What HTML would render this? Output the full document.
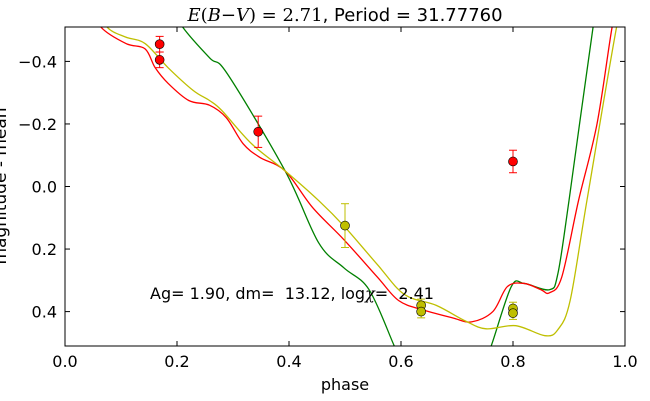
<!DOCTYPE html>
<html><head><meta charset="utf-8"><style>
body{margin:0;background:#fff;}
svg{display:block;font-family:"DejaVu Sans","Liberation Sans",sans-serif;}
text{white-space:pre;}
</style></head><body>
<svg id="chart" width="650" height="401">
<text x="345" y="21" font-size="18" text-anchor="middle"><tspan font-family="DejaVu Serif,serif" font-style="italic">E</tspan><tspan font-family="DejaVu Serif,serif">(</tspan><tspan font-family="DejaVu Serif,serif" font-style="italic">B</tspan><tspan font-family="DejaVu Serif,serif">−</tspan><tspan font-family="DejaVu Serif,serif" font-style="italic">V</tspan><tspan font-family="DejaVu Serif,serif">) = 2.71</tspan>, Period = 31.77760</text>
<text x="345" y="390" font-size="16" text-anchor="middle">phase</text>
<text transform="translate(6,186) rotate(-90)" font-size="17" text-anchor="middle">magnitude - mean</text>
<defs><clipPath id="pc"><rect x="65" y="27" width="560" height="319"/></clipPath></defs>
<g id="curves" clip-path="url(#pc)"></g>
<g id="pts"></g>
<g id="axes"></g>
<text x="150" y="299" font-size="16" xml:space="preserve">Ag= 1.90, dm=  13.12, log<tspan font-family="DejaVu Serif,serif" font-style="italic">χ</tspan>=  2.41</text>
</svg>
<script>
const xTicks=[0.0,0.2,0.4,0.6,0.8,1.0];
const xTickLabels=["0.0","0.2","0.4","0.6","0.8","1.0"];
const yTicks=[-0.4,-0.2,0.0,0.2,0.4];
const yTickLabels=["−0.4","−0.2","0.0","0.2","0.4"];
const greenA=[[0.19,-0.58],[0.21,-0.51],[0.259,-0.41],[0.29,-0.36],[0.393,-0.05],[0.453,0.18],[0.498,0.26],[0.543,0.33],[0.588,0.51],[0.61,0.6]];
const greenB=[[0.74,0.6],[0.761,0.51],[0.797,0.32],[0.82,0.31],[0.865,0.33],[0.88,0.28],[0.90,0.045],[0.943,-0.51],[0.955,-0.6]];
const redC=[[0.05,-0.58],[0.064,-0.51],[0.109,-0.457],[0.143,-0.44],[0.161,-0.38],[0.184,-0.33],[0.221,-0.275],[0.258,-0.26],[0.288,-0.22],[0.318,-0.137],[0.348,-0.093],[0.393,-0.05],[0.442,0.067],[0.498,0.17],[0.558,0.29],[0.596,0.365],[0.64,0.395],[0.692,0.42],[0.726,0.433],[0.764,0.40],[0.79,0.32],[0.82,0.31],[0.85,0.33],[0.865,0.34],[0.887,0.29],[0.917,0.045],[0.95,-0.2],[0.977,-0.51],[0.99,-0.6]];
const yellowC=[[0.06,-0.58],[0.075,-0.51],[0.108,-0.478],[0.143,-0.457],[0.184,-0.38],[0.229,-0.307],[0.258,-0.275],[0.28,-0.243],[0.333,-0.137],[0.393,-0.05],[0.453,0.045],[0.5,0.13],[0.558,0.25],[0.606,0.345],[0.663,0.38],[0.715,0.43],[0.752,0.455],[0.805,0.445],[0.857,0.477],[0.88,0.458],[0.902,0.365],[0.932,0.045],[0.985,-0.51],[1.0,-0.6]];
const redPhase=[0.169,0.169,0.345,0.8];
const redMag=[-0.455,-0.405,-0.175,-0.08];
const redErr=[0.025,0.025,0.05,0.036];
const yelPhase=[0.5,0.636,0.636,0.8,0.8];
const yelMag=[0.125,0.38,0.40,0.39,0.405];
const yelErr=[0.07,0.02,0.02,0.02,0.02];

const NS="http://www.w3.org/2000/svg";
const X0=65,X1=625,Y0=27,Y1=346,YMIN=-0.51,YMAX=0.51;
const sx=p=>X0+(X1-X0)*p;
const sy=m=>Y0+(Y1-Y0)*(m-YMIN)/(YMAX-YMIN);
function mk(t,a,parent){const e=document.createElementNS(NS,t);for(const k in a)e.setAttribute(k,a[k]);parent.appendChild(e);return e;}
function smooth(pts){const P=pts.map(q=>[sx(q[0]),sy(q[1])]);let d="M"+P[0][0]+","+P[0][1];
for(let i=0;i<P.length-1;i++){const p0=P[i-1]||P[i],p1=P[i],p2=P[i+1],p3=P[i+2]||P[i+1];
d+=" C"+(p1[0]+(p2[0]-p0[0])/6)+","+(p1[1]+(p2[1]-p0[1])/6)+" "+(p2[0]-(p3[0]-p1[0])/6)+","+(p2[1]-(p3[1]-p1[1])/6)+" "+p2[0]+","+p2[1];}return d;}
const cg=document.getElementById('curves');
[[greenA,'#008000','green-model-curve'],[greenB,'#008000','green-model-curve-right'],[redC,'#ff0000','red-model-curve'],[yellowC,'#bfbf00','yellow-model-curve']].forEach(s=>{
const el=mk('path',{d:smooth(s[0]),fill:'none',stroke:s[1],'stroke-width':1.3},cg);

});
const pg=document.getElementById('pts');
function points(ph,mg,er,col,name){for(let i=0;i<ph.length;i++){const x=sx(ph[i]),y1=sy(mg[i]-er[i]),y2=sy(mg[i]+er[i]);
const g=mk('g',{},pg);


mk('line',{x1:x,x2:x,y1:y1,y2:y2,stroke:col,'stroke-width':1},g);
mk('line',{x1:x-4,x2:x+4,y1:y1,y2:y1,stroke:col,'stroke-width':1},g);
mk('line',{x1:x-4,x2:x+4,y1:y2,y2:y2,stroke:col,'stroke-width':1},g);
mk('circle',{cx:x,cy:sy(mg[i]),r:4.5,fill:col,stroke:'#000','stroke-width':0.6},g);}}
points(redPhase,redMag,redErr,'#ff0000','red-data-point');
points(yelPhase,yelMag,yelErr,'#bfbf00','yellow-data-point');
const ag=document.getElementById('axes');
const fr=mk('rect',{x:X0,y:Y0,width:X1-X0,height:Y1-Y0,fill:'none',stroke:'#000','stroke-width':1},ag);


xTicks.forEach((v,i)=>{const x=sx(v);
mk('line',{x1:x,x2:x,y1:Y1,y2:Y1-5,stroke:'#000'},ag);mk('line',{x1:x,x2:x,y1:Y0,y2:Y0+5,stroke:'#000'},ag);
const t=mk('text',{x:x,y:Y1+21,'font-size':16,'text-anchor':'middle'},ag);t.textContent=xTickLabels[i];

});
yTicks.forEach((v,i)=>{const y=sy(v);
mk('line',{x1:X0,x2:X0+5,y1:y,y2:y,stroke:'#000'},ag);mk('line',{x1:X1,x2:X1-5,y1:y,y2:y,stroke:'#000'},ag);
const t=mk('text',{x:X0-8,y:y+6,'font-size':16,'text-anchor':'end'},ag);t.textContent=yTickLabels[i];

});
</script>
</body></html>
